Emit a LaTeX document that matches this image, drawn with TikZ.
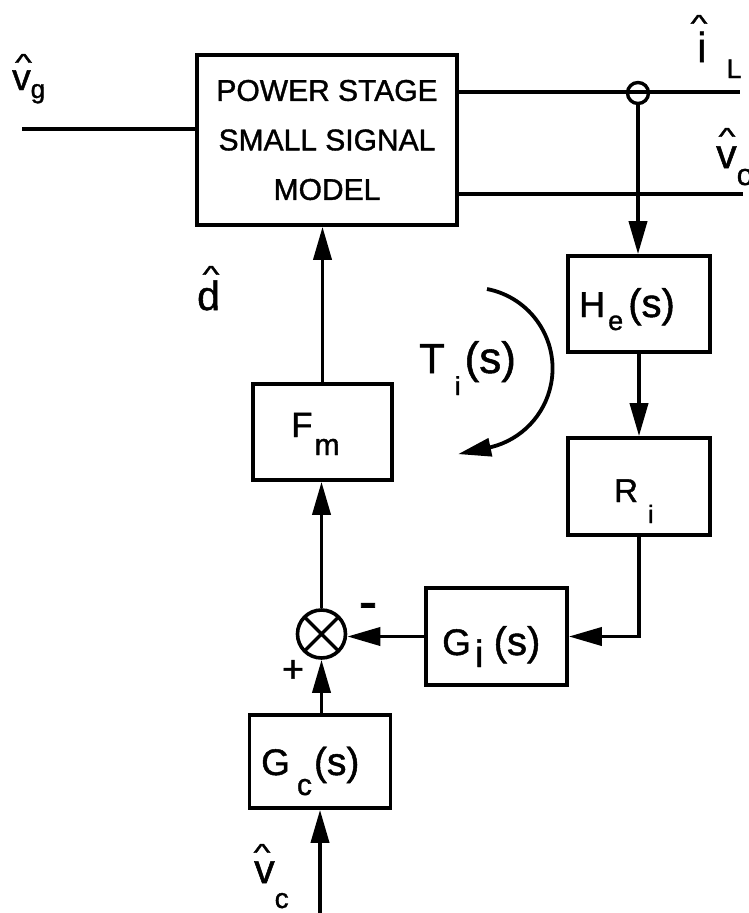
\documentclass[tikz,border=0pt]{standalone}
\usepackage{fontspec}
\setmainfont{Liberation Sans}[FakeBold=1.2]
\usetikzlibrary{arrows.meta}
\newcommand\lsub[3]{\raisebox{-#1}{\fontsize{#2}{#2}\selectfont #3}}
\newcommand\fsz[2]{{\fontsize{#1}{#1}\selectfont #2}}
\newcommand\hatmark{\smash{\scalebox{1.5}[1]{\textasciicircum}}}
\begin{document}
\begin{tikzpicture}[x=1pt,y=-1pt,
  wire/.style={line width=3.8pt},
  arr/.style={line width=3.8pt,-{Triangle[length=33pt,width=18pt]}},
  blk/.style={draw,line width=3.6pt,inner sep=0pt},
  lbl/.style={inner sep=0pt,anchor=base west},
  hatc/.style={inner sep=0pt,anchor=base,font=\fontsize{24}{24}\selectfont},
  sgn/.style={inner sep=0pt,anchor=base}]
\path[use as bounding box] (0,0) rectangle (749,913);

% blocks
\node[blk,minimum width=260pt,minimum height=170pt,align=center,
      font=\fontsize{30}{49.5}\selectfont] (PS) at (327,140)
      {POWER STAGE\\SMALL SIGNAL\\MODEL};
\node[blk,minimum width=142pt,minimum height=96pt] (He) at (639,304) {};
\node[blk,minimum width=142pt,minimum height=97pt] (Ri) at (639,486.5) {};
\node[blk,minimum width=139pt,minimum height=96pt] (Fm) at (322.5,432) {};
\node[blk,minimum width=141pt,minimum height=97pt] (Gi) at (496.5,636.5) {};
\node[blk,minimum width=141pt,minimum height=93pt] (Gc) at (320,761.5) {};
\node[draw,circle,line width=3.6pt,minimum size=48pt,inner sep=0pt,
      path picture={\draw[line width=3.4pt]
        (path picture bounding box.north west) -- (path picture bounding box.south east)
        (path picture bounding box.south west) -- (path picture bounding box.north east);}]
      (sum) at (321.5,634) {};
\node[draw,circle,line width=3.4pt,minimum size=21pt,inner sep=0pt] (tap) at (638,93) {};

% block texts
\node[lbl,font=\fontsize{36}{36}\selectfont] (HeT) at (579,317)
  {H\hspace{3pt}\lsub{13pt}{27}{e}\hspace{5pt}\fsz{40}{(s)}};
\node[lbl,font=\fontsize{33}{33}\selectfont] (RiT) at (614,502)
  {R\hspace{10pt}\lsub{21pt}{25}{i}};
\node[lbl,font=\fontsize{35}{35}\selectfont] (FmT) at (291,437)
  {F\hspace{2pt}\lsub{18pt}{30}{m}};
\node[lbl,font=\fontsize{37}{37}\selectfont] (GiT) at (442,655)
  {G\hspace{4pt}\lsub{12pt}{38}{i} \fsz{40}{(s)}};
\node[lbl,font=\fontsize{37}{37}\selectfont] (GcT) at (261,775)
  {G\hspace{7pt}\lsub{20pt}{30}{c}\hspace{2pt}\fsz{39}{(s)}};
\node[lbl,font=\fontsize{42}{42}\selectfont] (TiT) at (419,373)
  {T\hspace{10pt}\lsub{22pt}{26}{i}\hspace{4pt}\fsz{44}{(s)}};

% signal labels
\node[hatc] (vgh) at (23.5,70.6) {\hatmark};
\node[lbl,font=\fontsize{37}{37}\selectfont] (vgT) at (12,90) {v\lsub{8pt}{26}{g}};
\node[hatc] (iLh) at (699,31.6) {\hatmark};
\node[lbl,font=\fontsize{42}{42}\selectfont] (iLT) at (697,62) {i\hspace{20pt}\lsub{16pt}{27}{L}};
\node[hatc] (voh) at (727,144.6) {\hatmark};
\node[lbl,font=\fontsize{41}{41}\selectfont] (voT) at (716,168) {v\lsub{17pt}{30}{o}};
\node[hatc] (dh) at (211,282.6) {\hatmark};
\node[lbl,font=\fontsize{41}{41}\selectfont] (dT) at (197,310) {d};
\node[hatc] (vch) at (262,860.6) {\hatmark};
\node[lbl,font=\fontsize{41}{41}\selectfont] (vcT) at (254,883) {v\lsub{25pt}{28}{c}};
\node[sgn,font=\fontsize{38}{38}\selectfont] (plus) at (293,682) {+};
\node[sgn,font=\fontsize{55}{55}\selectfont] (minus) at (368,620) {-};

% connectors
\coordinate (vgin) at (22,129);
\coordinate (iLend) at (740,92);
\coordinate (voend) at (743,194);
\coordinate (vcin) at (320,913);
\draw[wire] (vgin) -- (PS.west |- vgin);
\draw[wire] (PS.east |- iLend) -- (iLend);
\draw[wire] (PS.east |- voend) -- (voend);
\draw[arr] (tap.south) -- (tap.south |- He.north);
\draw[arr] (He.south) -- (Ri.north);
\draw[arr] (Ri.south) |- (Gi.east);
\draw[arr] (Gi.west) -- (sum.east |- Gi.west);
\draw[arr] (sum.south |- Gc.north) -- (sum.south);
\draw[arr] (sum.north) -- (sum.north |- Fm.south);
\draw[arr] (Fm.north) -- (Fm.north |- PS.south);
\draw[arr] (vcin) -- (vcin |- Gc.south);
\coordinate (tis) at (487,289);
\draw[arr] (tis) arc[start angle=-79,end angle=76,radius=81] -- ++(-33,7);
\end{tikzpicture}
\end{document}
